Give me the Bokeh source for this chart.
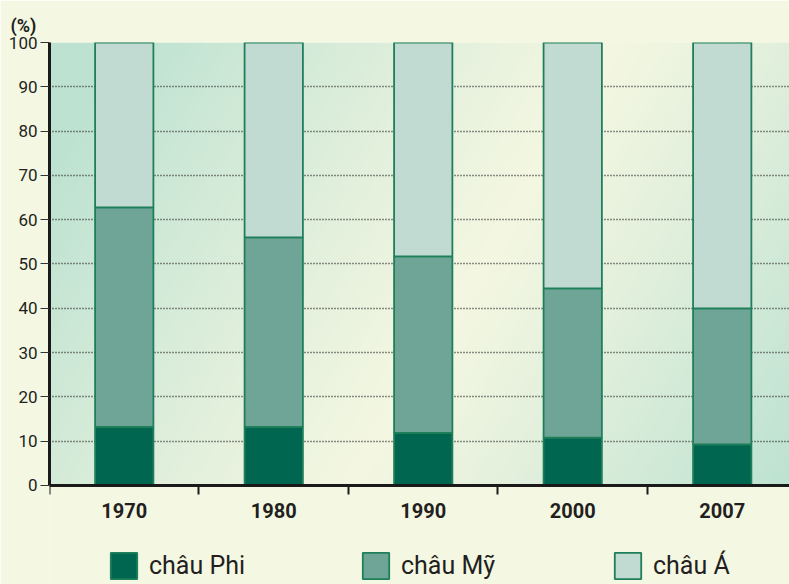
import numpy as np
from bokeh.plotting import figure
from bokeh.models import FixedTicker, Range1d, ColumnDataSource
from bokeh.embed import file_html
from bokeh.resources import INLINE

# ---- data ----
years = ["1970", "1980", "1990", "2000", "2007"]
chau_phi = [13.2, 13.2, 11.9, 10.8, 9.3]
chau_my = [49.6, 42.8, 39.8, 33.7, 30.7]
chau_a = [37.2, 44.0, 48.3, 55.5, 60.0]
series_names = ["châu Phi", "châu Mỹ", "châu Á"]
y_ticks = [0, 10, 20, 30, 40, 50, 60, 70, 80, 90, 100]

FONT = "Roboto"
TXT = "#231f20"
X_END = 4.95
Y_START = -22.35  # room under the axis for the legend

src = ColumnDataSource(dict(
    x=[i + 0.5 for i in range(len(years))],
    phi=chau_phi, my=chau_my, a=chau_a,
))

p = figure(width=789, height=584,
           x_range=Range1d(0, X_END), y_range=Range1d(Y_START, 100),
           output_backend="svg", toolbar_location=None,
           min_border_left=49, min_border_right=0,
           min_border_top=42, min_border_bottom=0,
           border_fill_color="#f4f7e2", background_fill_color="#f4f7e2",
           outline_line_color=None)

# background gradient inside the chart area (0..100)
ny, nx = 150, 250
fx = np.linspace(0, 740, nx)
fy = np.linspace(443, 0, ny)  # row 0 = bottom (pixel y measured from top)
X, Y = np.meshgrid(fx, fy)
a1 = (X - 430) * 0.858 + (Y - 230) * 0.514
t = np.where(a1 < 0, -a1 / 430.0, a1 / 380.0)
t = np.clip(t, 0, 1) ** 1.1
cream = np.array([244, 247, 226], dtype=float)
teal = np.array([189, 226, 209], dtype=float)
rgb = cream[None, None, :] + (teal - cream)[None, None, :] * t[..., None]
img = np.empty((ny, nx), dtype=np.uint32)
view = img.view(dtype=np.uint8).reshape((ny, nx, 4))
view[..., 0] = rgb[..., 0].astype(np.uint8)
view[..., 1] = rgb[..., 1].astype(np.uint8)
view[..., 2] = rgb[..., 2].astype(np.uint8)
view[..., 3] = 255
p.image_rgba(image=[img], x=0, y=0, dw=X_END, dh=100, level="image")

p.vbar_stack(["phi", "my", "a"], x="x", width=0.39, source=src,
             color=["#006650", "#6fa597", "#c2dbd2"],
             line_color="#1f7f5a", line_width=1.8,
             legend_label=series_names)

# title "(%)"
p.title.text = "(%)"
p.title.align = "left"
p.title.offset = -39
p.title.standoff = 14
p.title.text_font = FONT
p.title.text_font_size = "18px"
p.title.text_font_style = "bold"
p.title.text_color = TXT

# y axis
p.yaxis.ticker = FixedTicker(ticks=y_ticks)
p.yaxis.bounds = (0, 100)
p.yaxis.axis_line_width = 3
p.yaxis.axis_line_color = "#1a1a1a"
p.yaxis.major_tick_out = 9
p.yaxis.major_tick_in = 0
p.yaxis.major_tick_line_width = 1
p.yaxis.major_tick_line_color = "#333333"
p.yaxis.minor_tick_out = 0
p.yaxis.minor_tick_in = 0
p.yaxis.major_label_standoff = 3
p.yaxis.major_label_text_font = FONT
p.yaxis.major_label_text_font_size = "17px"
p.yaxis.major_label_text_color = TXT

# x axis, placed at y = 0
p.xaxis.fixed_location = 0
p.xaxis.ticker = FixedTicker(ticks=[i + 0.5 for i in range(len(years))],
                             minor_ticks=list(range(len(years))))
p.xaxis.major_label_overrides = {i + 0.5: y for i, y in enumerate(years)}
p.xaxis.axis_line_width = 3
p.xaxis.axis_line_color = "#1a1a1a"
p.xaxis.major_tick_out = 0
p.xaxis.major_tick_in = 0
p.xaxis.minor_tick_out = 9
p.xaxis.minor_tick_in = 0
p.xaxis.minor_tick_line_width = 2
p.xaxis.minor_tick_line_color = "#1a1a1a"
p.xaxis.major_label_standoff = 9
p.xaxis.major_label_text_font = FONT
p.xaxis.major_label_text_font_size = "20px"
p.xaxis.major_label_text_font_style = "bold"
p.xaxis.major_label_text_color = TXT

# grid
p.xgrid.visible = False
p.ygrid.ticker = FixedTicker(ticks=y_ticks[1:])
p.ygrid.grid_line_color = "#222222"
p.ygrid.grid_line_dash = "1 2"
p.ygrid.grid_line_width = 1.6

# legend
lg = p.legend[0]
lg.location = (58, 2)
lg.orientation = "horizontal"
lg.glyph_width = 33
lg.glyph_height = 33
lg.label_standoff = 9
lg.label_width = 210
lg.label_height = 33
lg.spacing = 0
lg.padding = 0
lg.margin = 0
lg.background_fill_alpha = 0
lg.border_line_alpha = 0
lg.label_text_font = FONT
lg.label_text_font_size = "25px"
lg.label_text_color = TXT
lg.label_text_baseline = "middle"

open("out.html", "w").write(file_html(p, INLINE))
